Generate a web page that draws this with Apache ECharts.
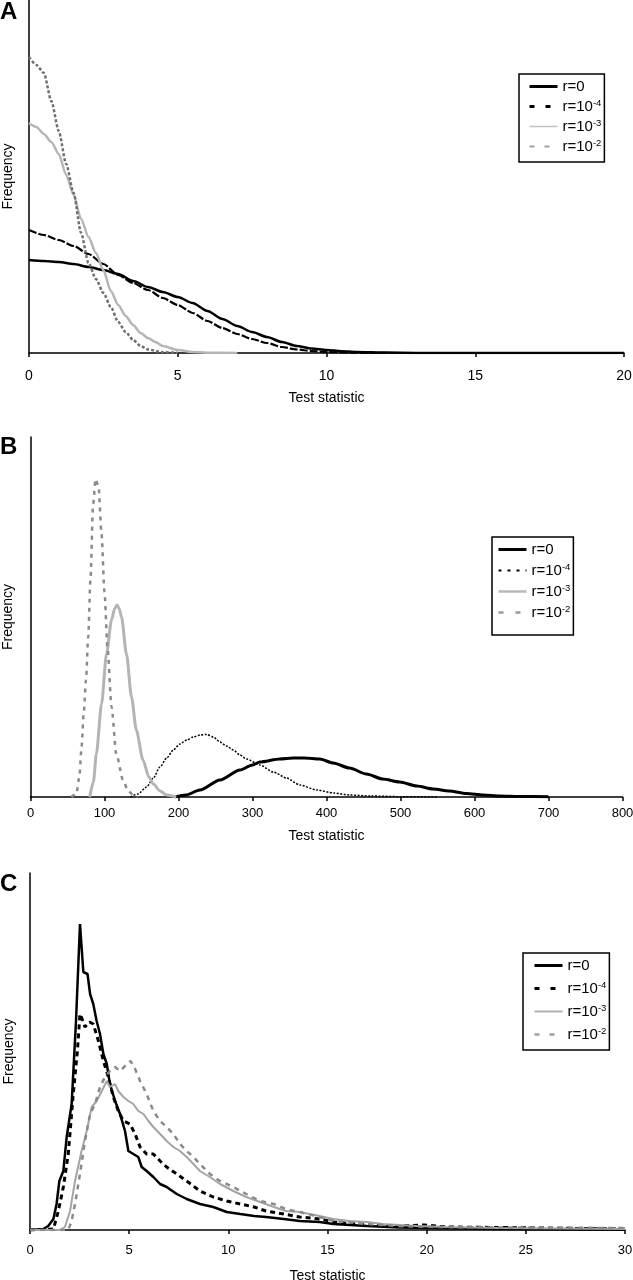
<!DOCTYPE html>
<html>
<head>
<meta charset="utf-8">
<script src="https://cdn.jsdelivr.net/npm/echarts@6/dist/echarts.min.js"></script>
<style>
  html, body { margin: 0; padding: 0; background: #fff; }
  #chart { width: 633px; height: 1280px; }
</style>
</head>
<body>
<div id="chart"></div>
<script>
// legend labels, same four recombination rates in every panel
const rNames = ['r=0', 'r=10^-4', 'r=10^-3', 'r=10^-2'];
const panelLetters = ['A', 'B', 'C'];
const xMax = [20, 800, 30];
const xStep = [5, 100, 5];
const yMax = [353, 360, 357]; // frequency, arbitrary units (axis is unlabelled)

// panel A  [test statistic, frequency]
const aR0 = [[0, 93], [0.5, 92], [1, 91], [1.5, 89], [2, 86], [2.5, 83], [3, 79], [3.5, 72], [4, 66], [4.5, 61], [5, 56], [5.5, 50], [6, 42], [6.5, 34], [7, 27], [7.5, 21], [8, 16], [8.5, 11], [9, 7], [9.5, 4.5], [10, 3], [10.5, 1.8], [11, 1], [12, 0.4], [13, 0.1], [14, 0], [20, 0]];
const aR4 = [[0, 123], [0.5, 118], [1, 113], [1.5, 107], [2, 99], [2.5, 89], [3, 78], [3.5, 70], [4, 63], [4.5, 55], [5, 48], [5.5, 40], [6, 32], [6.5, 25], [7, 19], [7.5, 14], [8, 10], [8.5, 6], [9, 3.5], [9.5, 2], [10, 1], [11, 0.3], [12, 0]];
const aR3 = [[0, 230], [0.25, 226], [0.5, 219], [0.75, 211], [1, 199], [1.25, 178], [1.5, 158], [1.75, 134], [2, 116], [2.25, 100], [2.5, 83], [2.75, 62], [3, 48], [3.25, 37], [3.5, 28], [3.75, 20], [4, 15], [4.25, 11], [4.5, 7], [5, 3], [5.5, 1], [6, 0.3], [7, 0]];
const aR2 = [[0, 296], [0.25, 288], [0.5, 280], [0.75, 252], [1, 222], [1.25, 189], [1.5, 160], [1.75, 120], [2, 90], [2.25, 74], [2.5, 60], [2.75, 46], [3, 31], [3.25, 21], [3.5, 13], [3.75, 7], [4, 3.5], [4.5, 0.8], [5, 0]];

// panel B
const bR0 = [[195, 0], [210, 2], [229, 7], [256, 17], [283, 27], [300, 32], [310, 35], [337, 38], [355, 39], [370, 39], [391, 38], [409, 34], [431, 29], [454, 23], [476, 18], [499, 15], [522, 11], [544, 8], [566, 6], [589, 3.5], [612, 2], [634, 1], [660, 0.5], [700, 0.2]];
const bR4 = [[135, 0], [145, 3], [157, 10], [166, 19], [175, 30], [184, 39], [193, 47], [202, 53], [211, 57], [220, 60], [229, 62], [238, 62.5], [247, 60], [256, 55], [265, 51], [274, 47], [283, 42], [292, 38], [310, 32], [328, 25], [346, 19], [364, 12], [387, 7], [410, 4], [431, 2], [460, 1], [500, 0.3], [550, 0]];
const bR3 = [[80, 0], [85, 15], [89, 43], [96, 93], [102.7, 143], [109.5, 177], [114, 189], [117, 192], [120, 188], [123, 180], [129.7, 143], [136.5, 100], [143, 67], [152, 37], [160, 20], [166, 13], [175, 6], [184, 2], [197, 0]];
const bR2 = [[55, 0], [62, 3], [66, 20], [69, 50], [72, 85], [75, 117], [78, 160], [81, 217], [84.6, 293], [88, 318], [92, 310], [96, 263], [100, 205], [104, 150], [109.5, 90], [116, 43], [125, 17], [132, 6], [139, 2], [145, 0]];

// panel C
const cR0 = [[0, 0], [0.67, 1], [0.92, 4], [1.18, 11], [1.34, 26], [1.48, 49], [1.68, 59], [1.85, 93], [2.1, 126], [2.32, 209], [2.52, 306], [2.69, 258], [2.9, 256], [3.03, 236], [3.19, 226], [3.36, 209], [3.53, 196], [3.7, 176], [3.87, 166], [4.03, 146], [4.29, 129], [4.54, 116], [4.79, 99], [4.96, 79], [5.21, 76], [5.46, 73], [5.63, 63], [5.88, 59], [6.22, 53], [6.56, 46], [6.89, 43], [7.4, 36], [7.9, 31], [8.57, 26], [9.24, 23], [9.92, 18], [10.6, 16], [11.3, 14], [11.9, 13], [12.8, 11], [13.6, 9], [14.6, 8], [15.3, 6], [17, 4], [18.6, 2.6], [20.3, 2], [23.7, 1], [30, 0.3]];
const cR4 = [[0, 0], [1.18, 1], [1.43, 19], [1.68, 43], [1.93, 76], [2.18, 136], [2.39, 179], [2.52, 216], [2.65, 210], [2.77, 203], [3.0, 208], [3.19, 206], [3.45, 189], [3.7, 169], [3.95, 153], [4.2, 133], [4.45, 119], [4.71, 109], [5.04, 106], [5.3, 96], [5.55, 83], [5.88, 76], [6.22, 76], [6.56, 69], [6.89, 63], [7.4, 56], [7.9, 49], [8.57, 39], [9.24, 33], [9.92, 29], [10.6, 26], [11.3, 23], [11.9, 19], [12.8, 16], [13.6, 13], [14.6, 11], [15.3, 8], [17, 5], [18.6, 4], [19.9, 5], [21, 3], [23.7, 2.5], [30, 1]];
const cR3 = [[0, 0], [1.5, 0], [1.76, 3], [2.02, 19], [2.27, 49], [2.6, 79], [2.86, 99], [3.11, 123], [3.36, 129], [3.62, 139], [3.87, 149], [4.03, 143], [4.29, 146], [4.45, 139], [4.71, 133], [4.96, 129], [5.21, 126], [5.46, 119], [5.72, 116], [5.97, 109], [6.22, 103], [6.56, 96], [6.89, 89], [7.23, 83], [7.56, 79], [7.9, 73], [8.24, 66], [8.57, 59], [9.07, 53], [9.58, 46], [10.25, 39], [10.9, 33], [11.6, 28], [12.3, 23], [12.9, 19], [13.6, 18], [14.6, 14], [15.3, 11], [16.1, 9], [17, 8], [17.8, 6], [19.5, 4], [21, 3], [23.7, 2], [27, 1.5], [30, 1]];
const cR2 = [[0, 0], [1.93, 0], [2.1, 9], [2.27, 26], [2.52, 56], [2.77, 89], [3.03, 116], [3.28, 126], [3.53, 143], [3.78, 153], [4.03, 159], [4.29, 163], [4.54, 159], [4.79, 164], [5.07, 169], [5.3, 161], [5.55, 149], [5.88, 136], [6.22, 119], [6.56, 109], [6.89, 103], [7.23, 96], [7.56, 86], [7.9, 79], [8.24, 73], [8.57, 66], [9.07, 56], [9.58, 49], [10.25, 43], [10.9, 36], [11.6, 29], [12.3, 26], [12.9, 21], [13.6, 18], [14.6, 13], [15.3, 9], [17, 6], [18.6, 4], [20.3, 3], [23.7, 2.5], [30, 2]];

const panelData = [[aR0, aR4, aR3, aR2], [bR0, bR4, bR3, bR2], [cR0, cR4, cR3, cR2]];

const FONT = "'Liberation Sans', Arial, Helvetica, sans-serif";

const grids = [
  { left: 29, top: 0, width: 595, height: 353, outerBoundsMode: 'none' },
  { left: 30.5, top: 437, width: 592, height: 360, outerBoundsMode: 'none' },
  { left: 30, top: 873, width: 595, height: 357, outerBoundsMode: 'none' },
];

// plot line looks: r=0, r=1e-4, r=1e-3, r=1e-2
const lineLooks = [
  [
    { color: '#000', width: 2.5, type: 'solid' },
    { color: '#000', width: 2.2, type: [8, 2] },
    { color: '#b5b5b5', width: 2.5, type: 'solid' },
    { color: '#707070', width: 2.5, type: [3, 2] },
  ],
  [
    { color: '#000', width: 3, type: 'solid' },
    { color: '#000', width: 1.5, type: [2, 1.5] },
    { color: '#b4b4b4', width: 3, type: 'solid' },
    { color: '#8a8a8a', width: 2.5, type: [4, 5] },
  ],
  [
    { color: '#000', width: 2.5, type: 'solid' },
    { color: '#000', width: 3, type: [5, 4] },
    { color: '#a4a4a4', width: 2, type: 'solid' },
    { color: '#8a8a8a', width: 2.5, type: [5, 5] },
  ],
];

// legend icon looks
const legendLooks = [
  [
    { color: '#000', width: 3, type: 'solid' },
    { color: '#000', width: 3, type: [5, 11] },
    { color: '#c0c0c0', width: 1.5, type: 'solid' },
    { color: '#a0a0a0', width: 2, type: [5, 10] },
  ],
  [
    { color: '#000', width: 3, type: 'solid' },
    { color: '#000', width: 2, type: [3, 6] },
    { color: '#b8b8b8', width: 2.5, type: 'solid' },
    { color: '#999', width: 2.5, type: [5, 12] },
  ],
  [
    { color: '#000', width: 3, type: 'solid' },
    { color: '#000', width: 3, type: [5, 11] },
    { color: '#b0b0b0', width: 2, type: 'solid' },
    { color: '#a0a0a0', width: 2.5, type: [5, 10] },
  ],
];

const legendBoxes = [
  { left: 519, top: 74, padding: [5, 3, 8, 9], itemGap: 4 },
  { left: 492, top: 537, padding: [5, 3, 15, 5], itemGap: 5 },
  { left: 523, top: 953, padding: [5, 3, 8, 10], itemGap: 7 },
];

const labelMargin = [16, 10, 14];
const labelSize = [14, 13, 13];
const nameGapX = [38, 32, 39];
const nameGapY = [14, 15, 14];
const letterTop = [0, 435, 872];

// "r=10^-4" -> r=10 with a superscript
const legendText = (name) => {
  const s = name.slice(2);
  const m = s.match(/^r=10\^(-\d)$/);
  return m ? '{t|r=10}{s|' + m[1] + '}' : '{t|' + s + '}';
};

const chart = echarts.init(document.getElementById('chart'));

const series = [];
panelData.forEach((lines, i) => {
  lines.forEach((pts, k) => {
    series.push({
      type: 'line',
      name: panelLetters[i] + ':' + rNames[k],
      xAxisIndex: i,
      yAxisIndex: i,
      data: pts,
      symbol: 'none',
      smooth: i < 2 ? 0.25 : false,
      smoothMonotone: 'x',
      silent: true,
      lineStyle: lineLooks[i][k],
    });
  });
});

const options = {
  animation: false,
  backgroundColor: '#fff',
  textStyle: { fontFamily: FONT, color: '#000' },
  title: panelLetters.map((t, i) => ({
    text: t,
    left: 0,
    top: letterTop[i],
    padding: 0,
    textStyle: { fontSize: 24, fontWeight: 'bold', fontFamily: FONT, color: '#000' },
  })),
  grid: grids,
  xAxis: grids.map((g, i) => ({
    type: 'value',
    gridIndex: i,
    min: 0,
    max: xMax[i],
    interval: xStep[i],
    name: 'Test statistic',
    nameLocation: 'middle',
    nameGap: nameGapX[i],
    nameTextStyle: { fontSize: 14, color: '#000', fontFamily: FONT },
    axisLine: { lineStyle: { color: '#000', width: 1.5 } },
    axisTick: { show: true, length: 4, lineStyle: { color: '#000', width: 1.5 } },
    axisLabel: { fontSize: labelSize[i], color: '#000', margin: labelMargin[i], fontFamily: FONT },
    splitLine: { show: false },
  })),
  yAxis: grids.map((g, i) => ({
    type: 'value',
    gridIndex: i,
    min: 0,
    max: yMax[i],
    name: 'Frequency',
    nameLocation: 'middle',
    nameRotate: 90,
    nameGap: nameGapY[i],
    nameTextStyle: { fontSize: 14, color: '#000', fontFamily: FONT },
    axisLine: { show: true, lineStyle: { color: '#000', width: 1.5 } },
    axisTick: { show: false },
    axisLabel: { show: false },
    splitLine: { show: false },
  })),
  legend: legendBoxes.map((b, i) => ({
    orient: 'vertical',
    left: b.left,
    top: b.top,
    padding: b.padding,
    itemGap: b.itemGap,
    itemWidth: 28,
    itemHeight: 14,
    borderColor: '#000',
    borderWidth: 1.5,
    selectedMode: false,
    data: rNames.map((n, k) => ({
      name: panelLetters[i] + ':' + n,
      lineStyle: legendLooks[i][k],
      itemStyle: { opacity: 0 },
    })),
    formatter: legendText,
    textStyle: {
      fontFamily: FONT,
      fontSize: 15,
      color: '#000',
      rich: {
        t: { fontSize: 15, fontFamily: FONT, color: '#000', lineHeight: 17 },
        s: { fontSize: 9.5, fontFamily: FONT, color: '#000', lineHeight: 10, verticalAlign: 'top' },
      },
    },
  })),
  series,
};

chart.setOption(options);
</script>
</body>
</html>
